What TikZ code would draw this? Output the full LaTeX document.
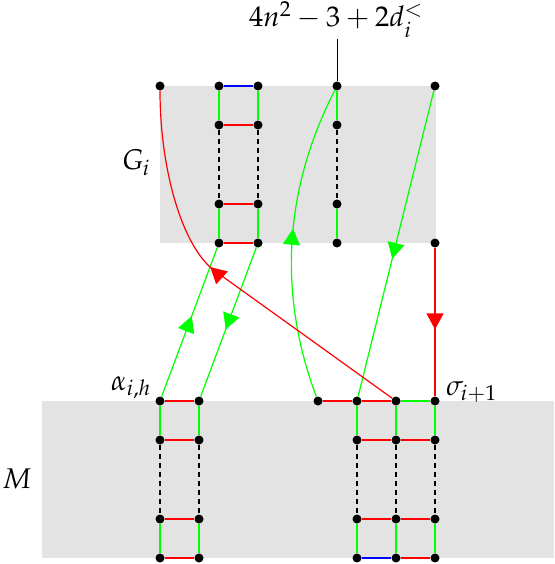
\documentclass[tikz,border=0pt]{standalone}
\usepackage{mathpazo}
\usetikzlibrary{arrows.meta,decorations.markings}
\begin{document}
\begin{tikzpicture}[x=1pt,y=-1pt,
  dot/.style={circle,fill=black,inner sep=0pt,minimum size=9pt},
  gline/.style={draw=green,line width=1.2pt},
  rline/.style={draw=red,line width=1.2pt},
  bline/.style={draw=blue,line width=1.2pt},
  dline/.style={draw=black,line width=1.2pt,dash pattern=on 5pt off 4pt},
  lbl/.style={inner sep=0pt,font=\fontsize{28.5}{34}\selectfont},
  midarrow/.style={postaction={decorate,decoration={markings,
     mark=at position #1 with {\arrow{Triangle[length=16pt,width=17pt]}}}}},
  bgbox/.style={fill=black!11,draw=none}]
\useasboundingbox (0,0) rectangle (554,564);
\fill[bgbox] (160,86) rectangle (436,243);
\fill[bgbox] (42,401) rectangle (554,558);
% top nodes
\foreach \n/\y in {1/86,2/125,3/204,4/243}{
  \node[dot] (a\n) at (219,\y) {};
  \node[dot] (b\n) at (258,\y) {};
  \node[dot] (c\n) at (337,\y) {};
}
\node[dot] (d1) at (435,86) {};
\node[dot] (d4) at (435,243) {};
\node[dot] (r) at (160,86) {};
% bottom nodes
\foreach \n/\y in {1/401,2/440,3/519,4/558}{
  \node[dot] (e\n) at (160,\y) {};
  \node[dot] (f\n) at (199,\y) {};
  \node[dot] (h\n) at (357,\y) {};
  \node[dot] (k\n) at (396,\y) {};
  \node[dot] (m\n) at (435,\y) {};
}
\node[dot] (g) at (318,401) {};
\coordinate (bend) at (215,271);
% labels
\node[lbl,anchor=base] (lab) at (336,27) {$4n^2-3+2d_i^<$};
\coordinate (labfoot) at (337,39);
\node[lbl,anchor=base east] (Gi) at (150,170) {$G_i$};
\node[lbl,anchor=base east] (alpha) at (151,390) {$\alpha_{i,h}$};
\node[lbl,anchor=base west] (sigma) at (446,395) {$\sigma_{i+1}$};
\node[lbl,anchor=base west] (M) at (2,488) {$M$};
% top ladder
\draw[bline] (a1) -- (b1);
\draw[gline] (a1) -- (a2);
\draw[gline] (b1) -- (b2);
\draw[rline] (a2) -- (b2);
\draw[dline] (a2) -- (a3);
\draw[dline] (b2) -- (b3);
\draw[rline] (a3) -- (b3);
\draw[gline] (a3) -- (a4);
\draw[gline] (b3) -- (b4);
\draw[rline] (a4) -- (b4);
% column c
\draw[black,line width=0.8pt] (labfoot) -- (c1);
\draw[gline] (c1) -- (c2);
\draw[dline] (c2) -- (c3);
\draw[gline] (c3) -- (c4);
% connectors between the boxes
\draw[rline,midarrow=0.55,red] (d4) -- (m1);
\draw[gline,midarrow=0.54,green] (e1) -- (a4);
\draw[gline,midarrow=0.55,green] (b4) -- (f1);
\draw[gline,midarrow=0.55,green] (d1) -- (h1);
\draw[gline,midarrow=0.54,green] (g) .. controls (280,300) and (281,195) .. (c1);
\draw[rline,midarrow=0.545,red] (k1) -- (bend) .. controls (182.5,247.7) and (160,170) .. (r);
% bottom left ladder
\draw[rline] (e1) -- (f1);
\draw[gline] (e1) -- (e2);
\draw[gline] (f1) -- (f2);
\draw[rline] (e2) -- (f2);
\draw[dline] (e2) -- (e3);
\draw[dline] (f2) -- (f3);
\draw[rline] (e3) -- (f3);
\draw[gline] (e3) -- (e4);
\draw[gline] (f3) -- (f4);
\draw[rline] (e4) -- (f4);
% bottom right ladder
\draw[rline] (g) -- (h1);
\draw[rline] (h1) -- (k1);
\draw[gline] (k1) -- (m1);
\draw[gline] (h1) -- (h2);
\draw[gline] (k1) -- (k2);
\draw[gline] (m1) -- (m2);
\draw[rline] (h2) -- (k2);
\draw[rline] (k2) -- (m2);
\draw[dline] (h2) -- (h3);
\draw[dline] (k2) -- (k3);
\draw[dline] (m2) -- (m3);
\draw[rline] (h3) -- (k3);
\draw[rline] (k3) -- (m3);
\draw[gline] (h3) -- (h4);
\draw[gline] (k3) -- (k4);
\draw[gline] (m3) -- (m4);
\draw[bline] (h4) -- (k4);
\draw[rline] (k4) -- (m4);
\end{tikzpicture}
\end{document}
